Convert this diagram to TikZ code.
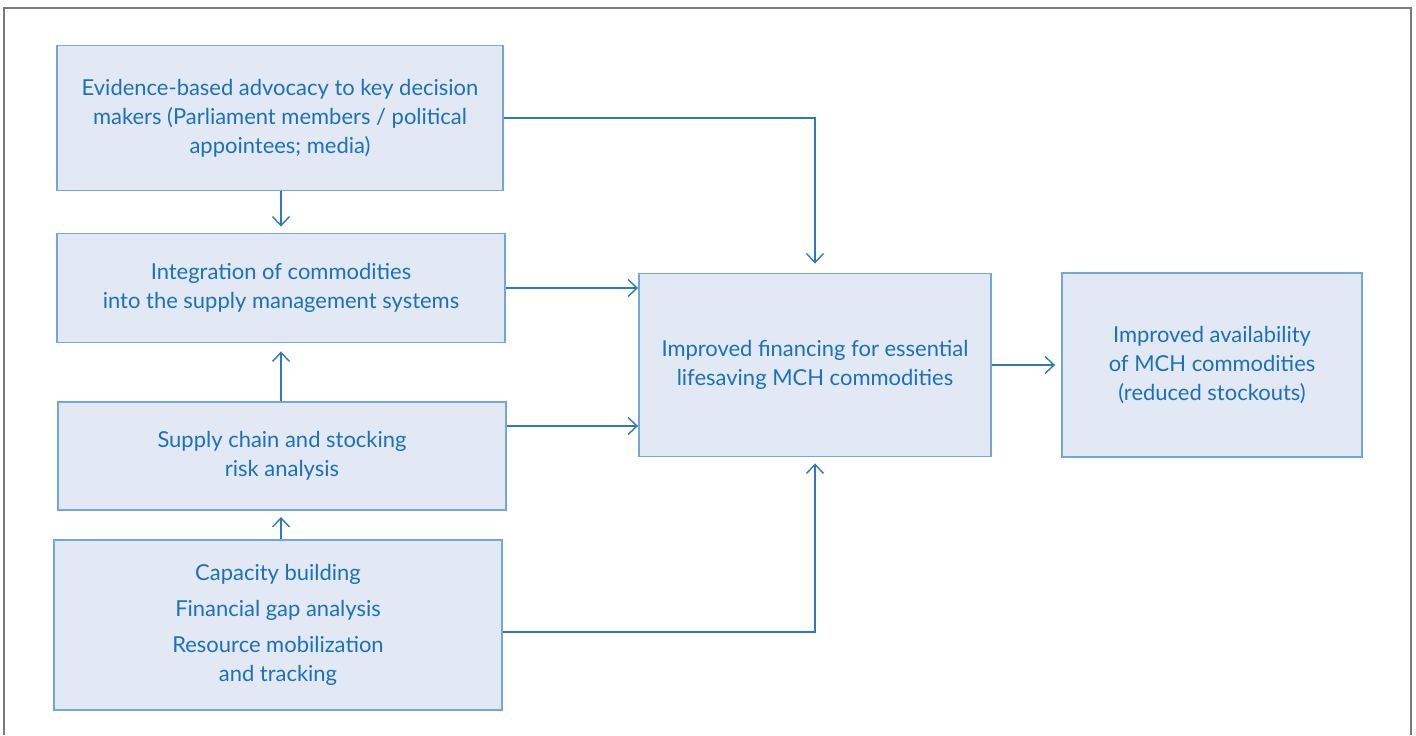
\documentclass[tikz,border=0pt]{standalone}
\usepackage{fontspec}
\setmainfont{Lato}
\usepackage{tikz}
\usetikzlibrary{arrows.meta}

\definecolor{boxfill}{HTML}{E2E8F4}
\definecolor{boxline}{HTML}{6FA8D9}
\definecolor{boxtext}{HTML}{1B72B8}
\definecolor{arrline}{HTML}{2E78BC}
\definecolor{framecol}{HTML}{7A7A7A}

\tikzset{
    block/.style={draw=boxline, line width=1.1pt, fill=boxfill, text=boxtext,
        align=center, font=\fontsize{12.5}{16.5}\selectfont, inner sep=0pt},
    link/.style={draw=arrline, line width=0.8pt,
        -{Straight Barb[length=0.18cm, width=0.34cm, line width=0.8pt]}}
}

\begin{document}
\begin{tikzpicture}[x=0.02cm, y=-0.02cm]
    \useasboundingbox (0,0) rectangle (1416,735);
    \draw [framecol, line width=1.1pt] (4,735) |- (1411,8) -- (1411,735);

    % First, locate each of the nodes and name them
    \node [block, minimum width=8.94cm, minimum height=2.9cm] (advocacy) at (280,118)
        {Evidence-based advocacy to key decision\\makers (Parliament members / political\\appointees; media)};
    \node [block, minimum width=8.96cm, minimum height=2.18cm] (integration) at (281,288)
        {Integration of commodities\\into the supply management systems};
    \node [block, minimum width=8.96cm, minimum height=2.16cm] (risk) at (282,456)
        {Supply chain and stocking\\risk analysis};
    \node [block, minimum width=8.96cm, minimum height=3.4cm] (capacity) at (278,625)
        {Capacity building\\[0.14cm]Financial gap analysis\\[0.14cm]Resource mobilization\\and tracking};
    \node [block, minimum width=7.04cm, minimum height=3.66cm] (financing) at (815,365)
        {Improved financing for essential\\lifesaving MCH commodities};
    \node [block, minimum width=6cm, minimum height=3.68cm] (availability) at (1212,365)
        {Improved availability\\of MCH commodities\\(reduced stockouts)};

    % Now draw the lines:
    \draw [link, shorten >=0.12cm] (advocacy.south -| 281,0) -- (integration.north);
    \draw [link, shorten >=0.18cm] (advocacy.east) -| (financing.north);
    \draw [link] (integration.east) -- (integration.east -| financing.west);
    \draw [link, shorten >=0.16cm] (risk.north -| 281,0) -- (integration.south);
    \draw [link] ([yshift=0.6cm]risk.east) -- ([yshift=0.6cm]risk.east -| financing.west);
    \draw [link, shorten >=0.12cm] (capacity.north -| 281,0) -- (risk.south -| 281,0);
    \draw [link, shorten >=0.12cm] ([yshift=-0.14cm]capacity.east) -| (financing.south);
    \draw [link, shorten >=0.12cm] (financing.east) -- (availability.west);
\end{tikzpicture}
\end{document}
